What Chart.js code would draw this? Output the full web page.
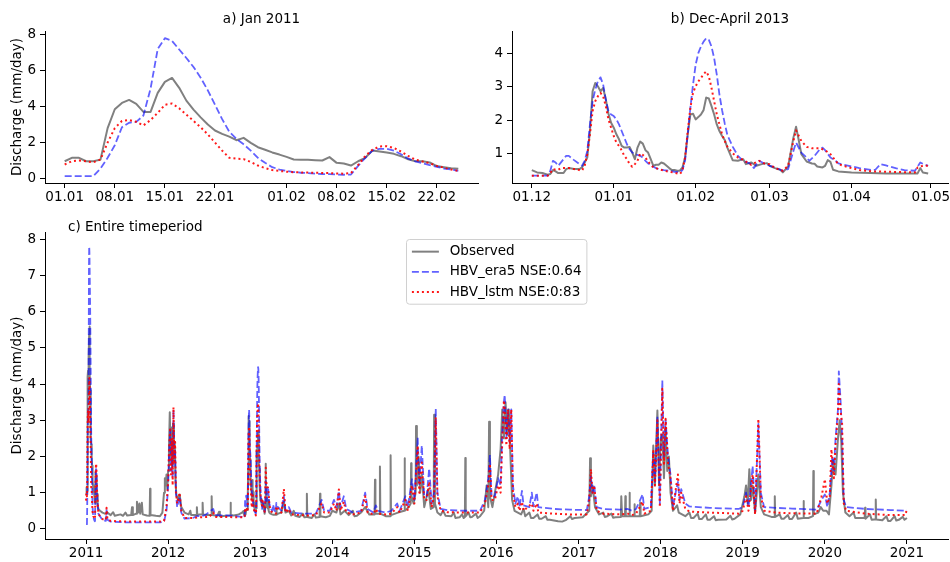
<!DOCTYPE html>
<html>
<head>
<meta charset="utf-8">
<script src="https://cdn.jsdelivr.net/npm/chart.js@4.4.1/dist/chart.umd.min.js"></script>
<style>
  html, body { margin: 0; background: #fff; }
  #wrap { position: relative; width: 950px; height: 562px; }
  canvas { position: absolute; }
</style>
</head>
<body>
<div id="wrap">
  <canvas id="chartJan" width="480" height="205" style="left:0;top:0"></canvas>
  <canvas id="chartWinter" width="470" height="205" style="left:480px;top:0"></canvas>
  <canvas id="chartAll" width="950" height="362" style="left:0;top:200px"></canvas>
</div>
<script>
// daily discharge 01.01.2011 - 25.02.2011 (mm/day), one value per day
const janObs = [
  0.96, 1.15, 1.15, 0.96, 0.96, 1.05, 2.8, 3.85, 4.2, 4.37,
  4.15, 3.7, 3.7, 4.76, 5.37, 5.59, 5.04, 4.33, 3.83, 3.4,
  3.0, 2.67, 2.48, 2.33, 2.13, 2.26, 1.98, 1.74, 1.6, 1.45,
  1.33, 1.2, 1.06, 1.04, 1.04, 1.02, 1.0, 1.19, 0.87, 0.83,
  0.72, 0.96, 1.15, 1.56, 1.5, 1.44, 1.37, 1.24, 1.07, 0.96,
  0.96, 0.89, 0.69, 0.63, 0.57, 0.54
];
const janEra5 = [
  0.13, 0.13, 0.13, 0.13, 0.13, 0.55, 1.15, 1.85, 2.85, 3.1,
  3.15, 3.5, 5.0, 7.2, 7.8, 7.65, 7.17, 6.7, 6.2, 5.6,
  4.9, 4.1, 3.3, 2.6, 2.2, 1.9, 1.55, 1.15, 0.87, 0.63,
  0.5, 0.42, 0.36, 0.32, 0.3, 0.27, 0.25, 0.24, 0.22, 0.21,
  0.22, 0.7, 1.15, 1.55, 1.65, 1.65, 1.55, 1.35, 1.1, 0.95,
  0.85, 0.75, 0.65, 0.55, 0.5, 0.42
];
const janLstm = [
  0.78, 0.96, 1.0, 0.96, 0.9, 1.05, 2.0, 2.8, 3.2, 3.25,
  3.15, 2.95, 3.25, 3.65, 4.1, 4.17, 3.9, 3.55, 3.2, 2.85,
  2.45, 2.0, 1.55, 1.15, 1.1, 1.08, 0.92, 0.72, 0.58, 0.47,
  0.42, 0.38, 0.35, 0.34, 0.33, 0.32, 0.31, 0.3, 0.28, 0.27,
  0.3, 0.75, 1.25, 1.6, 1.78, 1.8, 1.7, 1.5, 1.25, 1.05,
  0.95, 0.85, 0.7, 0.6, 0.5, 0.42
];
const janTickDays = [0, 7, 14, 21, 31, 38, 45, 52];
const janTickLabels = ['01.01', '08.01', '15.01', '22.01', '01.02', '08.02', '15.02', '22.02'];

// winter 2012/13: [days since 01.12.2012, discharge]
const winterObs = [
  [0,0.49],[2,0.42],[4,0.4],[6,0.35],[7,0.37],[8,0.49],[9,0.45],[10,0.4],[12,0.4],[13,0.52],
  [14,0.55],[16,0.52],[18,0.52],[19,0.57],[20,0.72],[21,0.87],[22,1.67],[23,2.87],[24,3.12],[25,3.02],
  [26,2.87],[27,2.97],[28,2.62],[29,2.19],[30,1.92],[31,1.77],[32,1.57],[33,1.42],[34,1.22],[35,1.17],
  [36,1.17],[37,1.19],[38,1.02],[39,0.82],[40,1.17],[41,1.35],[42,1.29],[43,1.09],[44,1.02],[45,0.82],
  [46,0.62],[47,0.65],[48,0.65],[49,0.72],[50,0.69],[51,0.62],[52,0.55],[53,0.49],[54,0.49],[55,0.47],
  [56,0.47],[57,0.57],[58,0.87],[59,1.57],[60,2.17],[61,2.19],[62,2.02],[63,2.09],[64,2.17],[65,2.3],
  [66,2.68],[67,2.65],[68,2.42],[69,2.17],[70,1.87],[71,1.67],[72,1.52],[73,1.4],[74,1.17],[76,0.79],
  [78,0.77],[80,0.82],[81,0.67],[83,0.72],[85,0.62],[87,0.67],[89,0.7],[90,0.62],[92,0.55],[94,0.5],
  [95,0.42],[97,0.6],[99,1.47],[100,1.8],[101,1.4],[102,0.97],[104,0.75],[106,0.69],[107,0.68],[108,0.6],
  [110,0.57],[111,0.62],[112,0.79],[113,0.74],[114,0.5],[116,0.45],[121,0.42],[128,0.4],[134,0.39],[140,0.39],
  [146,0.39],[147,0.55],[148,0.42],[150,0.39]
];
const winterEra5 = [
  [0,0.32],[2,0.32],[4,0.32],[6,0.32],[7,0.47],[8,0.77],[9,0.72],[10,0.62],[12,0.82],[13,0.92],
  [14,0.92],[16,0.79],[18,0.67],[19,0.62],[20,0.77],[21,1.07],[22,1.87],[23,2.57],[24,2.92],[25,3.17],
  [26,3.29],[27,3.07],[28,2.62],[29,2.27],[30,2.17],[31,2.12],[32,2.02],[33,1.87],[34,1.67],[35,1.47],
  [36,1.27],[37,1.12],[38,1.02],[39,0.97],[40,0.95],[41,0.92],[42,0.87],[43,0.77],[44,0.69],[45,0.65],
  [46,0.59],[47,0.55],[48,0.52],[50,0.49],[52,0.47],[54,0.44],[56,0.42],[57,0.49],[58,0.77],[59,1.57],
  [60,2.37],[61,3.07],[62,3.67],[63,4.02],[64,4.22],[65,4.37],[66,4.47],[67,4.42],[68,4.22],[69,3.87],
  [70,3.37],[71,2.77],[72,2.3],[73,1.9],[74,1.55],[76,1.2],[78,0.92],[80,0.77],[83,0.67],[84,0.55],
  [86,0.77],[88,0.69],[90,0.62],[92,0.57],[95,0.47],[97,0.52],[99,1.07],[100,1.32],[102,1.02],[104,0.87],
  [105,0.77],[107,0.92],[109,1.12],[110,1.17],[111,1.09],[113,0.87],[115,0.77],[116,0.69],[120,0.62],[124,0.55],
  [129,0.49],[130,0.5],[132,0.67],[134,0.63],[138,0.54],[141,0.49],[145,0.47],[147,0.72],[148,0.68],[150,0.62]
];
const winterLstm = [
  [0,0.32],[2,0.32],[4,0.32],[6,0.32],[7,0.4],[8,0.52],[9,0.5],[10,0.5],[11,0.55],[12,0.55],
  [14,0.55],[16,0.52],[18,0.49],[19,0.47],[20,0.62],[21,0.97],[22,1.57],[23,2.27],[24,2.57],[25,2.72],
  [26,2.82],[27,2.72],[28,2.42],[29,2.02],[30,1.77],[31,1.52],[32,1.32],[33,1.22],[34,1.09],[35,0.92],
  [36,0.82],[37,0.67],[38,0.59],[39,0.67],[40,0.77],[41,0.99],[42,0.95],[43,0.87],[44,0.75],[45,0.65],
  [46,0.57],[48,0.52],[50,0.47],[52,0.44],[54,0.41],[56,0.37],[57,0.47],[58,0.87],[59,1.67],[60,2.37],
  [61,2.82],[62,3.02],[63,3.17],[64,3.27],[65,3.39],[66,3.47],[67,3.32],[68,2.97],[69,2.57],[70,2.17],
  [71,1.87],[72,1.57],[73,1.37],[74,1.2],[76,1.0],[78,0.87],[80,0.8],[83,0.65],[86,0.77],[88,0.69],
  [90,0.67],[92,0.55],[95,0.47],[97,0.62],[99,1.37],[100,1.69],[102,1.37],[104,1.19],[106,1.15],[109,1.15],
  [111,1.09],[113,0.97],[115,0.77],[116,0.67],[120,0.57],[124,0.49],[129,0.45],[134,0.44],[140,0.43],[145,0.42],
  [146,0.57],[148,0.62],[150,0.62]
];
const winterTickDays = [0, 31, 62, 90, 121, 151];
const winterTickLabels = ['01.12', '01.01', '01.02', '01.03', '01.04', '01.05'];

// rest of the record: [decimal year, discharge]
// part 1: March 2011 - November 2012
const obsPart1 = [
  [2011.17,0.5],[2011.2,0.45],[2011.23,0.42],[2011.26,0.45],[2011.3,0.38],[2011.33,0.46],[2011.35,0.36],[2011.42,0.4],
  [2011.45,0.36],[2011.48,0.45],[2011.5,0.37],[2011.55,0.38],[2011.56,0.6],[2011.57,0.38],[2011.61,0.42],[2011.62,0.75],
  [2011.635,0.45],[2011.65,0.7],[2011.66,0.42],[2011.68,0.72],[2011.69,0.4],[2011.74,0.37],[2011.775,0.36],[2011.78,1.11],
  [2011.785,0.38],[2011.85,0.36],[2011.9,0.35],[2011.93,0.45],[2011.95,1.0],[2011.96,1.4],[2011.97,1.2],[2011.98,1.5],
  [2011.99,1.1],[2012.0,1.6],[2012.01,2.2],[2012.02,3.22],[2012.03,2.0],[2012.04,2.8],[2012.05,1.7],[2012.06,2.9],
  [2012.07,1.9],[2012.08,2.4],[2012.09,1.3],[2012.1,0.95],[2012.12,0.8],[2012.14,0.95],[2012.16,0.6],[2012.2,0.45],
  [2012.25,0.4],[2012.27,0.5],[2012.28,0.38],[2012.3,0.38],[2012.345,0.38],[2012.35,0.6],[2012.355,0.38],[2012.38,0.4],
  [2012.415,0.4],[2012.42,0.72],[2012.425,0.4],[2012.47,0.38],[2012.525,0.38],[2012.53,0.9],[2012.535,0.38],[2012.6,0.36],
  [2012.62,0.47],[2012.63,0.35],[2012.65,0.35],[2012.7,0.36],[2012.755,0.37],[2012.76,0.72],[2012.765,0.38],[2012.8,0.37],
  [2012.86,0.4],[2012.9,0.45]
];
const era5Part1 = [
  [2011.17,0.35],[2011.2,0.25],[2011.24,0.22],[2011.25,0.52],[2011.26,0.25],[2011.3,0.2],[2011.5,0.18],[2011.7,0.18],
  [2011.9,0.18],[2011.95,0.2],[2011.98,0.5],[2012.0,1.2],[2012.01,2.0],[2012.025,2.75],[2012.035,1.6],[2012.045,2.4],
  [2012.055,1.4],[2012.065,3.3],[2012.075,1.9],[2012.085,2.2],[2012.095,1.0],[2012.11,0.6],[2012.14,0.9],[2012.16,0.45],
  [2012.2,0.28],[2012.3,0.3],[2012.35,0.35],[2012.4,0.35],[2012.45,0.38],[2012.55,0.55],[2012.57,0.38],[2012.7,0.37],
  [2012.8,0.36],[2012.9,0.33]
];
const lstmPart1 = [
  [2011.17,0.35],[2011.2,0.27],[2011.24,0.24],[2011.25,0.58],[2011.26,0.27],[2011.3,0.22],[2011.5,0.2],[2011.7,0.2],
  [2011.9,0.2],[2011.95,0.22],[2011.98,0.6],[2012.0,1.3],[2012.01,2.1],[2012.025,2.8],[2012.035,1.5],[2012.045,2.5],
  [2012.055,1.2],[2012.065,3.36],[2012.075,1.8],[2012.085,2.4],[2012.095,1.0],[2012.11,0.7],[2012.14,1.0],[2012.16,0.5],
  [2012.2,0.3],[2012.3,0.3],[2012.4,0.32],[2012.5,0.33],[2012.55,0.45],[2012.57,0.33],[2012.7,0.33],[2012.8,0.32],
  [2012.9,0.32]
];
// part 2: May 2013 - December 2020
const obsPart2 = [
  [2013.34,0.42],[2013.38,0.45],[2013.41,0.75],[2013.43,0.45],[2013.47,0.5],[2013.5,0.37],[2013.53,0.5],[2013.55,0.36],
  [2013.6,0.33],[2013.64,0.42],[2013.66,0.32],[2013.685,0.33],[2013.69,0.97],[2013.695,0.33],[2013.75,0.3],[2013.78,0.4],
  [2013.8,0.31],[2013.845,0.33],[2013.85,0.97],[2013.855,0.35],[2013.92,0.32],[2013.97,0.36],[2014.0,0.5],[2014.05,0.45],
  [2014.08,0.7],[2014.1,0.4],[2014.15,0.5],[2014.2,0.38],[2014.25,0.5],[2014.27,0.35],[2014.3,0.36],[2014.35,0.45],
  [2014.4,0.6],[2014.45,0.4],[2014.515,0.4],[2014.52,1.36],[2014.525,0.42],[2014.575,0.42],[2014.58,1.72],[2014.585,0.42],
  [2014.65,0.35],[2014.705,0.35],[2014.71,2.03],[2014.715,0.38],[2014.8,0.45],[2014.875,0.5],[2014.88,1.95],[2014.885,0.5],
  [2014.93,0.6],[2014.955,0.7],[2014.96,1.81],[2014.965,0.9],[2014.99,0.7],[2015.015,1.0],[2015.02,2.84],[2015.03,1.2],
  [2015.05,2.0],[2015.07,1.0],[2015.09,1.5],[2015.12,0.6],[2015.17,1.1],[2015.2,0.55],[2015.235,0.6],[2015.24,3.15],
  [2015.25,0.7],[2015.28,0.45],[2015.32,0.38],[2015.35,0.5],[2015.38,0.36],[2015.45,0.35],[2015.48,0.45],[2015.5,0.3],
  [2015.55,0.32],[2015.58,0.4],[2015.6,0.3],[2015.615,0.33],[2015.62,1.96],[2015.625,0.35],[2015.66,0.45],[2015.68,0.32],
  [2015.7,0.33],[2015.75,0.42],[2015.77,0.3],[2015.8,0.35],[2015.85,0.5],[2015.88,1.2],[2015.9,0.6],[2015.91,2.96],
  [2015.92,0.9],[2015.95,0.6],[2015.98,1.0],[2016.02,1.5],[2016.05,2.2],[2016.07,3.3],[2016.09,2.5],[2016.11,3.5],
  [2016.13,2.6],[2016.15,3.3],[2016.17,2.0],[2016.19,0.8],[2016.22,0.5],[2016.3,0.4],[2016.33,0.55],[2016.35,0.35],
  [2016.4,0.45],[2016.42,0.3],[2016.45,0.3],[2016.5,0.4],[2016.52,0.28],[2016.55,0.28],[2016.6,0.35],[2016.62,0.25],
  [2016.65,0.25],[2016.75,0.21],[2016.8,0.2],[2016.85,0.25],[2016.9,0.35],[2016.92,0.27],[2016.95,0.3],[2017.05,0.32],
  [2017.13,0.5],[2017.14,1.95],[2017.15,0.9],[2017.17,1.2],[2017.2,0.6],[2017.25,0.4],[2017.3,0.45],[2017.32,0.33],
  [2017.35,0.35],[2017.4,0.42],[2017.42,0.31],[2017.45,0.32],[2017.515,0.33],[2017.52,0.9],[2017.53,0.35],[2017.565,0.35],
  [2017.57,0.9],[2017.575,0.35],[2017.615,0.35],[2017.62,1.0],[2017.625,0.35],[2017.675,0.35],[2017.68,0.68],[2017.685,0.35],
  [2017.745,0.35],[2017.75,0.72],[2017.755,0.35],[2017.85,0.4],[2017.89,0.5],[2017.91,2.3],[2017.93,1.2],[2017.96,3.27],
  [2017.98,1.2],[2018.0,2.5],[2018.02,2.6],[2018.04,1.4],[2018.06,2.8],[2018.08,1.6],[2018.1,2.0],[2018.12,1.0],
  [2018.15,0.5],[2018.2,0.65],[2018.22,0.45],[2018.3,0.35],[2018.35,0.45],[2018.37,0.3],[2018.4,0.3],[2018.45,0.42],
  [2018.47,0.27],[2018.5,0.27],[2018.55,0.4],[2018.57,0.25],[2018.6,0.25],[2018.65,0.35],[2018.67,0.24],[2018.7,0.25],
  [2018.8,0.26],[2018.85,0.36],[2018.87,0.26],[2018.9,0.28],[2018.97,0.4],[2019.02,0.9],[2019.04,1.2],[2019.06,0.7],
  [2019.08,1.65],[2019.1,0.8],[2019.12,1.2],[2019.15,0.45],[2019.19,1.5],[2019.22,0.6],[2019.26,0.4],[2019.35,0.33],
  [2019.385,0.33],[2019.39,0.9],[2019.395,0.33],[2019.45,0.4],[2019.47,0.28],[2019.5,0.28],[2019.55,0.38],[2019.57,0.27],
  [2019.6,0.27],[2019.65,0.45],[2019.67,0.28],[2019.735,0.3],[2019.74,0.77],[2019.745,0.3],[2019.8,0.3],[2019.855,0.35],
  [2019.86,1.6],[2019.865,0.4],[2019.92,0.45],[2019.95,0.6],[2019.98,0.5],[2020.02,0.5],[2020.05,0.4],[2020.08,1.2],
  [2020.1,1.9],[2020.13,1.5],[2020.16,2.5],[2020.18,3.0],[2020.2,2.4],[2020.22,1.0],[2020.25,0.45],[2020.3,0.35],
  [2020.35,0.45],[2020.37,0.3],[2020.4,0.3],[2020.485,0.3],[2020.49,0.58],[2020.495,0.28],[2020.55,0.4],[2020.57,0.25],
  [2020.6,0.26],[2020.615,0.26],[2020.62,0.81],[2020.625,0.26],[2020.7,0.24],[2020.75,0.35],[2020.77,0.22],[2020.8,0.22],
  [2020.85,0.35],[2020.87,0.23],[2020.9,0.25],[2020.95,0.33],[2020.97,0.25],[2021.0,0.3]
];
const era5Part2 = [
  [2013.34,0.6],[2013.38,0.5],[2013.41,0.9],[2013.43,0.5],[2013.47,0.6],[2013.5,0.45],[2013.6,0.43],[2013.7,0.42],
  [2013.8,0.42],[2013.87,0.8],[2013.9,0.5],[2013.97,0.5],[2014.02,0.8],[2014.05,0.6],[2014.08,1.05],[2014.1,0.6],
  [2014.14,0.9],[2014.17,0.55],[2014.25,0.45],[2014.35,0.5],[2014.4,1.0],[2014.43,0.55],[2014.5,0.45],[2014.53,0.65],
  [2014.56,0.5],[2014.65,0.45],[2014.72,0.5],[2014.79,0.7],[2014.82,0.5],[2014.89,0.9],[2014.92,0.6],[2014.97,1.37],
  [2015.0,0.8],[2015.04,2.53],[2015.06,1.2],[2015.09,2.3],[2015.12,0.9],[2015.15,0.9],[2015.18,1.67],[2015.21,0.7],
  [2015.24,1.0],[2015.26,3.33],[2015.28,1.0],[2015.32,0.55],[2015.4,0.52],[2015.6,0.5],[2015.8,0.5],[2015.86,0.8],
  [2015.9,1.4],[2015.92,2.04],[2015.94,0.9],[2015.98,0.9],[2016.02,1.4],[2016.05,1.2],[2016.07,2.6],[2016.09,3.5],
  [2016.1,3.7],[2016.12,2.5],[2016.14,3.3],[2016.16,2.4],[2016.18,3.3],[2016.2,1.2],[2016.23,0.7],[2016.26,0.9],
  [2016.28,0.6],[2016.31,1.05],[2016.33,0.65],[2016.4,0.6],[2016.43,1.0],[2016.45,0.62],[2016.49,1.0],[2016.51,0.6],
  [2016.7,0.55],[2016.9,0.53],[2017.1,0.52],[2017.13,0.9],[2017.15,1.45],[2017.17,1.0],[2017.19,1.2],[2017.22,0.6],
  [2017.3,0.55],[2017.5,0.53],[2017.6,0.55],[2017.65,0.5],[2017.7,0.55],[2017.78,0.95],[2017.8,0.55],[2017.88,0.6],
  [2017.91,2.1],[2017.93,1.3],[2017.96,3.13],[2017.99,0.7],[2018.02,4.1],[2018.04,2.0],[2018.06,3.0],[2018.09,2.0],
  [2018.12,1.5],[2018.15,0.6],[2018.19,1.1],[2018.21,1.3],[2018.23,0.8],[2018.25,1.1],[2018.3,0.7],[2018.35,0.62],
  [2018.6,0.58],[2018.95,0.55],[2019.0,0.6],[2019.04,1.0],[2019.07,0.6],[2019.1,1.2],[2019.12,1.74],[2019.15,0.5],
  [2019.19,2.9],[2019.22,1.0],[2019.26,0.6],[2019.4,0.58],[2019.6,0.56],[2019.9,0.53],[2019.96,0.8],[2020.0,0.95],
  [2020.03,0.6],[2020.06,1.0],[2020.09,2.0],[2020.11,1.6],[2020.13,2.5],[2020.16,3.3],[2020.17,4.35],[2020.19,3.6],
  [2020.21,2.6],[2020.23,0.8],[2020.26,0.6],[2020.5,0.55],[2020.8,0.52],[2021.0,0.5]
];
const lstmPart2 = [
  [2013.34,0.55],[2013.38,0.45],[2013.41,1.1],[2013.43,0.45],[2013.47,0.55],[2013.5,0.4],[2013.6,0.38],[2013.7,0.37],
  [2013.8,0.38],[2013.87,0.7],[2013.9,0.45],[2013.97,0.45],[2014.02,0.7],[2014.05,0.5],[2014.08,1.09],[2014.1,0.5],
  [2014.14,0.75],[2014.17,0.45],[2014.25,0.4],[2014.35,0.45],[2014.4,0.9],[2014.43,0.45],[2014.5,0.4],[2014.53,0.55],
  [2014.56,0.42],[2014.65,0.4],[2014.72,0.42],[2014.79,0.6],[2014.82,0.45],[2014.89,0.8],[2014.92,0.5],[2014.97,1.2],
  [2015.0,0.7],[2015.04,2.3],[2015.06,1.0],[2015.09,1.83],[2015.12,0.8],[2015.15,0.8],[2015.18,1.3],[2015.21,0.6],
  [2015.24,0.9],[2015.26,3.08],[2015.28,0.9],[2015.32,0.5],[2015.4,0.46],[2015.6,0.45],[2015.8,0.45],[2015.86,0.7],
  [2015.9,1.2],[2015.92,1.8],[2015.94,0.8],[2015.98,0.8],[2016.02,1.2],[2016.05,1.0],[2016.07,2.4],[2016.09,3.55],
  [2016.1,3.3],[2016.12,2.3],[2016.14,3.3],[2016.16,2.2],[2016.18,3.3],[2016.2,1.0],[2016.23,0.6],[2016.26,0.7],
  [2016.28,0.5],[2016.31,0.75],[2016.33,0.5],[2016.43,0.7],[2016.45,0.5],[2016.49,0.7],[2016.51,0.45],[2016.7,0.42],
  [2016.9,0.4],[2017.1,0.4],[2017.13,0.8],[2017.15,1.65],[2017.17,1.0],[2017.19,1.2],[2017.22,0.5],[2017.3,0.42],
  [2017.5,0.4],[2017.6,0.42],[2017.65,0.38],[2017.7,0.42],[2017.78,0.75],[2017.8,0.42],[2017.88,0.5],[2017.91,2.15],
  [2017.93,1.2],[2017.96,3.0],[2017.99,0.6],[2018.02,3.87],[2018.04,1.8],[2018.06,3.04],[2018.09,1.8],[2018.12,1.4],
  [2018.15,0.5],[2018.19,1.2],[2018.21,1.5],[2018.23,0.7],[2018.25,1.0],[2018.3,0.55],[2018.35,0.48],[2018.6,0.45],
  [2018.95,0.42],[2019.0,0.5],[2019.04,0.9],[2019.07,0.5],[2019.1,1.1],[2019.12,1.5],[2019.15,0.4],[2019.19,3.04],
  [2019.22,0.9],[2019.26,0.5],[2019.4,0.45],[2019.6,0.43],[2019.9,0.42],[2019.96,0.9],[2020.0,1.37],[2020.03,0.7],
  [2020.06,0.9],[2020.08,2.2],[2020.11,1.4],[2020.13,2.3],[2020.16,3.2],[2020.17,4.0],[2020.19,3.3],[2020.21,2.9],
  [2020.23,0.7],[2020.26,0.5],[2020.5,0.42],[2020.8,0.38],[2020.98,0.38],[2021.0,0.55]
];
const yearTicks = [2011, 2012, 2013, 2014, 2015, 2016, 2017, 2018, 2019, 2020, 2021];

const FONT = '"DejaVu Sans", sans-serif';
const FONT_SIZE = 13.5;
Chart.defaults.font.family = FONT;
Chart.defaults.font.size = FONT_SIZE;
Chart.defaults.color = '#000';

const seriesStyle = [
  { label: 'Observed', borderColor: '#808080', borderWidth: 2, borderDash: [], order: 3 },
  { label: 'HBV_era5 NSE:0.64', borderColor: 'rgba(0,0,255,0.62)', borderWidth: 1.8, borderDash: [7, 3], order: 2 },
  { label: 'HBV_lstm NSE:0:83', borderColor: 'rgba(255,0,0,0.9)', borderWidth: 2, borderDash: [2, 3], order: 1 }
];

// convert the window day counters to decimal years for the full record
const janToYear = d => 2011 + d / 365;
const winterToYear = d => d < 31 ? 2012 + (335 + d) / 366 : 2013 + (d - 31) / 365;

function fullSeries(jan, part1, winter, part2) {
  return [
    ...jan.map((q, d) => ({ x: janToYear(d), y: q })),
    ...part1.map(([t, q]) => ({ x: t, y: q })),
    ...winter.map(([d, q]) => ({ x: winterToYear(d), y: q })),
    ...part2.map(([t, q]) => ({ x: t, y: q }))
  ];
}

function makeDatasets(seriesList) {
  return seriesList.map((data, i) => Object.assign({
    data: data,
    fill: false,
    tension: 0,
    pointRadius: 0,
    borderCapStyle: 'butt',
    borderJoinStyle: 'round'
  }, seriesStyle[i]));
}

function xAxis(min, max, ticks, labels, height) {
  return {
    type: 'linear', min: min, max: max, bounds: 'data',
    afterBuildTicks: s => { s.ticks = ticks.map(v => ({ value: v })); },
    afterFit: s => { s.height = height; s.paddingLeft = 0; s.paddingRight = 0; },
    ticks: { autoSkip: false, maxRotation: 0, padding: 1, color: '#000',
             callback: v => labels[ticks.indexOf(v)] },
    grid: { drawOnChartArea: false, tickLength: 5, tickColor: '#000', tickWidth: 1 },
    border: { color: '#000', width: 1 }
  };
}

function yAxis(min, max, ticks, width, withTitle) {
  return {
    type: 'linear', min: min, max: max, bounds: 'data',
    afterBuildTicks: s => { s.ticks = ticks.map(v => ({ value: v })); },
    afterFit: s => { s.width = width; s.paddingTop = 0; s.paddingBottom = 0; },
    ticks: { padding: 4, color: '#000', callback: v => String(v) },
    grid: { drawOnChartArea: false, tickLength: 5, tickColor: '#000', tickWidth: 1 },
    border: { color: '#000', width: 1 },
    title: { display: withTitle, text: 'Discharge (mm/day)', color: '#000',
             padding: { top: 9, bottom: 0 } }
  };
}

// panel caption, centred over the plot or at its left
const panelTitle = {
  id: 'panelTitle',
  afterDraw(chart, args, opts) {
    const { ctx, chartArea } = chart;
    ctx.save();
    ctx.font = FONT_SIZE + 'px ' + FONT;
    ctx.fillStyle = '#000';
    ctx.textBaseline = 'middle';
    if (opts.align === 'left') {
      ctx.textAlign = 'left';
      ctx.fillText(opts.text, chartArea.left + opts.dx, chartArea.top + opts.dy);
    } else {
      ctx.textAlign = 'center';
      ctx.fillText(opts.text, (chartArea.left + chartArea.right) / 2, chartArea.top + opts.dy);
    }
    ctx.restore();
  }
};

// framed legend at the upper centre of the plot
const legendBox = {
  id: 'legendBox',
  afterDraw(chart, args, opts) {
    if (!opts.show) return;
    const { ctx, chartArea } = chart;
    const sets = chart.data.datasets;
    ctx.save();
    ctx.font = FONT_SIZE + 'px ' + FONT;
    const textW = Math.max(...sets.map(ds => ctx.measureText(ds.label).width));
    const pad = 0.4 * FONT_SIZE, handle = 2 * FONT_SIZE, gap = 0.8 * FONT_SIZE, rowH = 20.2;
    const w = pad + handle + gap + textW + pad;
    const h = 2 * pad + rowH * (sets.length - 1) + FONT_SIZE;
    const left = Math.round((chartArea.left + chartArea.right) / 2 - w / 2) + 0.5;
    const top = Math.round(chartArea.top + opts.dy) + 0.5;
    ctx.beginPath();
    ctx.roundRect(left, top, w, h, 3);
    ctx.fillStyle = 'rgba(255,255,255,0.8)';
    ctx.fill();
    ctx.strokeStyle = '#d0d0d0';
    ctx.lineWidth = 1;
    ctx.stroke();
    sets.forEach((ds, i) => {
      const y = top + pad + FONT_SIZE / 2 + i * rowH;
      ctx.beginPath();
      ctx.strokeStyle = ds.borderColor;
      ctx.lineWidth = ds.borderWidth;
      ctx.setLineDash(ds.borderDash);
      ctx.moveTo(left + pad, y);
      ctx.lineTo(left + pad + handle, y);
      ctx.stroke();
      ctx.setLineDash([]);
      ctx.fillStyle = '#000';
      ctx.textAlign = 'left';
      ctx.textBaseline = 'middle';
      ctx.fillText(ds.label, left + pad + handle + gap, y);
    });
    ctx.restore();
  }
};

function makeChart(id, datasets, scales, padding, title, legend) {
  return new Chart(document.getElementById(id), {
    type: 'line',
    data: { datasets: datasets },
    plugins: [panelTitle, legendBox],
    options: {
      responsive: false,
      animation: false,
      events: [],
      layout: { padding: padding },
      scales: scales,
      plugins: {
        legend: { display: false },
        tooltip: { enabled: false },
        panelTitle: title,
        legendBox: legend || { show: false }
      }
    }
  });
}

// a) January 2011
makeChart('chartJan',
  makeDatasets([janObs, janEra5, janLstm].map(s => s.map((q, d) => ({ x: d, y: q })))),
  {
    x: xAxis(-2.75, 57.75, janTickDays, janTickLabels, 22),
    y: yAxis(-0.25, 8.2, [0, 2, 4, 6, 8], 45, true)
  },
  { top: 31, right: 2, left: 0, bottom: 0 },
  { text: 'a) Jan 2011', dy: -12 });

// b) winter 2012/13
makeChart('chartWinter',
  makeDatasets([winterObs, winterEra5, winterLstm].map(s => s.map(([d, q]) => ({ x: d, y: q })))),
  {
    x: xAxis(-7.5, 157.5, winterTickDays, winterTickLabels, 22),
    y: yAxis(0.1, 4.69, [1, 2, 3, 4], 32, false)
  },
  { top: 31, right: 2, left: 0, bottom: 0 },
  { text: 'b) Dec-April 2013', dy: -12 });

// c) whole record
makeChart('chartAll',
  makeDatasets([
    fullSeries(janObs, obsPart1, winterObs, obsPart2),
    fullSeries(janEra5, era5Part1, winterEra5, era5Part2),
    fullSeries(janLstm, lstmPart1, winterLstm, lstmPart2)
  ]),
  {
    x: xAxis(2010.5, 2021.5, yearTicks, yearTicks.map(String), 23),
    y: yAxis(-0.28, 8.2, [0, 1, 2, 3, 4, 5, 6, 7, 8], 45, true)
  },
  { top: 32, right: 2, left: 0, bottom: 0 },
  { text: 'c) Entire timeperiod', align: 'left', dx: 23, dy: -5 },
  { show: true, dy: 7 });
</script>
</body>
</html>
